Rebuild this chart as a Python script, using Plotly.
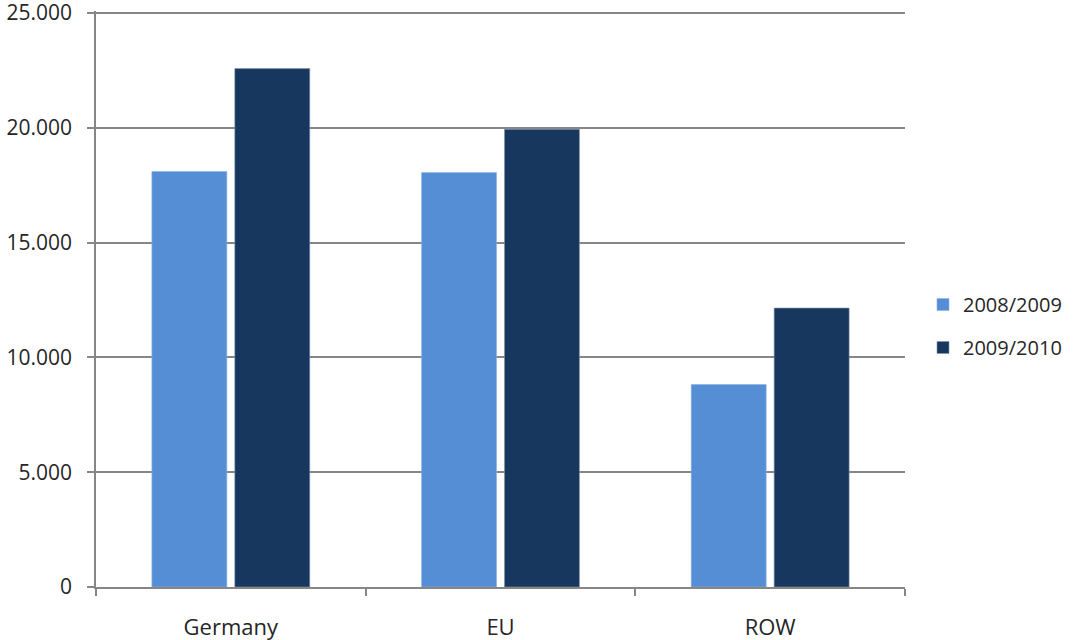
import plotly.graph_objects as go

# Regions and yearly values
regions = ["Germany", "EU", "ROW"]
season_0809 = [18100, 18050, 8820]
season_0910 = [22580, 19940, 12150]
series_names = ["2008/2009", "2009/2010"]
y_ticks = [0, 5000, 10000, 15000, 20000, 25000]

light_blue = "#558ED5"
dark_navy = "#17375E"
axis_grey = "#868686"
text_col = "#262626"
font_family = "Open Sans, DejaVu Sans, sans-serif"

fig = go.Figure()
fig.add_trace(go.Bar(
    x=regions, y=season_0809, name=series_names[0], legendgroup="a",
    marker=dict(color=light_blue, line=dict(color="#8DB3E2", width=0.6)),
))
fig.add_trace(go.Bar(
    x=regions, y=season_0910, name=series_names[1], legendgroup="b",
    marker=dict(color=dark_navy, line=dict(color="#8096B0", width=0.6)),
))

fig.update_layout(
    width=1075, height=640,
    margin=dict(l=96, r=170, t=11, b=53, pad=0, autoexpand=False),
    paper_bgcolor="white", plot_bgcolor="white",
    barmode="group", bargap=0.385, bargroupgap=0.096,
    separators=",.",
    font=dict(family=font_family, size=21, color=text_col),
    showlegend=True,
    legend=dict(
        xref="container", yref="container",
        x=923 / 1075, y=1 - 326 / 640,
        xanchor="left", yanchor="middle",
        traceorder="grouped", tracegroupgap=14,
        font=dict(family=font_family, size=20, color=text_col),
        bgcolor="rgba(0,0,0,0)",
    ),
)

fig.update_xaxes(
    automargin=False,
    showline=True, linecolor=axis_grey, linewidth=1.5,
    ticks="outside", tickson="boundaries", ticklen=7, tickcolor=axis_grey, tickwidth=1.5,
    showgrid=False, ticklabelstandoff=20,
    tickfont=dict(family=font_family, size=22, color=text_col),
)
# A little headroom above 25.000 keeps its gridline and label drawn
fig.update_yaxes(
    automargin=False,
    range=[0, 25090], tickvals=y_ticks, tickformat=",",
    showline=True, linecolor=axis_grey, linewidth=1.5,
    ticks="outside", ticklen=7, tickcolor=axis_grey, tickwidth=1.5,
    showgrid=True, gridcolor=axis_grey, gridwidth=1.5,
    zeroline=False, ticklabelstandoff=11, ticklabeloverflow="allow",
    tickfont=dict(family=font_family, size=21, color=text_col),
)

fig.write_html("out.html")
